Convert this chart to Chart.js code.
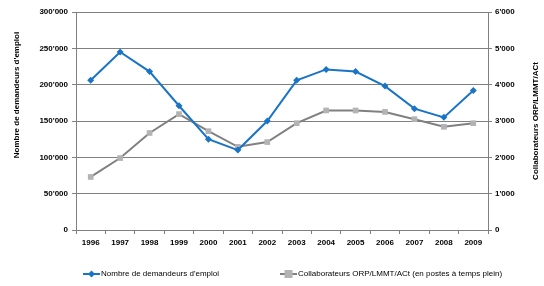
<!DOCTYPE html>
<html>
<head>
<meta charset="utf-8">
<script src="https://cdn.jsdelivr.net/npm/chart.js@4"></script>
<style>
  html, body { margin: 0; padding: 0; background: #fff; }
  #wrap { width: 544px; height: 286px; }
</style>
</head>
<body>
<div id="wrap"><canvas id="chart"></canvas></div>
<script>
// valeurs
const years = ['1996', '1997', '1998', '1999', '2000', '2001', '2002', '2003', '2004', '2005', '2006', '2007', '2008', '2009'];
const demandeurs = [206000, 245000, 218000, 171000, 125000, 110000, 150000, 206000, 221000, 218000, 198000, 167000, 155000, 192000];
const collaborateurs = [1460, 1980, 2670, 3190, 2720, 2290, 2420, 2940, 3290, 3290, 3250, 3050, 2840, 2940];

const blue = '#1a74c6';
const grayLine = '#808080';
const grayMark = '#b3b3b3';
const fontFam = '"Liberation Sans", Arial, sans-serif';

// format 300'000
const fmt = v => String(v).replace(/\B(?=(\d{3})+(?!\d))/g, "'");

// titres des axes + legende (ligne et marqueur comme dans Excel)
const extras = {
  id: 'extras',
  afterDraw(chart) {
    const ctx = chart.ctx;
    const area = chart.chartArea;
    ctx.save();
    ctx.fillStyle = '#000';
    ctx.font = 'bold 8px ' + fontFam;
    ctx.textAlign = 'center';
    ctx.textBaseline = 'middle';
    ctx.translate(17, 95);
    ctx.rotate(-Math.PI / 2);
    ctx.fillText("Nombre de demandeurs d'emploi", 0, 0);
    ctx.restore();

    ctx.save();
    ctx.fillStyle = '#000';
    ctx.font = 'bold 8px ' + fontFam;
    ctx.textAlign = 'center';
    ctx.textBaseline = 'middle';
    ctx.translate(536, (area.top + area.bottom) / 2);
    ctx.rotate(-Math.PI / 2);
    ctx.fillText('Collaborateurs ORP/LMMT/ACt', 0, 0);
    ctx.restore();

    // legende
    const ly = 274;
    const items = [
      { x: 83, ds: chart.data.datasets[0], shape: 'diamond' },
      { x: 280, ds: chart.data.datasets[1], shape: 'square' }
    ];
    ctx.save();
    ctx.font = '8px ' + fontFam;
    ctx.textBaseline = 'middle';
    ctx.textAlign = 'left';
    items.forEach(it => {
      ctx.strokeStyle = it.ds.borderColor;
      ctx.lineWidth = 2;
      ctx.beginPath();
      ctx.moveTo(it.x, ly);
      ctx.lineTo(it.x + 17, ly);
      ctx.stroke();
      ctx.fillStyle = it.ds.backgroundColor;
      const cx = it.x + 8.5;
      if (it.shape === 'diamond') {
        ctx.beginPath();
        ctx.moveTo(cx, ly - 3.5);
        ctx.lineTo(cx + 3.5, ly);
        ctx.lineTo(cx, ly + 3.5);
        ctx.lineTo(cx - 3.5, ly);
        ctx.closePath();
        ctx.fill();
      } else {
        ctx.fillRect(cx - 4, ly - 4, 8, 8);
      }
      ctx.fillStyle = '#000';
      ctx.fillText(it.ds.label, it.x + 18, ly);
    });
    ctx.restore();
  }
};

new Chart(document.getElementById('chart'), {
  type: 'line',
  data: {
    labels: years,
    datasets: [
      {
        label: "Nombre de demandeurs d'emploi",
        data: demandeurs,
        yAxisID: 'y',
        borderColor: blue,
        backgroundColor: blue,
        borderWidth: 2,
        pointStyle: 'rectRot',
        pointRadius: 3.5,
        pointBorderWidth: 0,
        tension: 0
      },
      {
        label: 'Collaborateurs ORP/LMMT/ACt (en postes à temps plein)',
        data: collaborateurs,
        yAxisID: 'y1',
        borderColor: grayLine,
        backgroundColor: grayMark,
        borderWidth: 2,
        pointStyle: 'rect',
        pointRadius: 4,
        pointBorderWidth: 0,
        tension: 0
      }
    ]
  },
  options: {
    responsive: true,
    maintainAspectRatio: false,
    animation: false,
    layout: { padding: { top: 12, right: 0, bottom: 34, left: 0 } },
    plugins: {
      tooltip: { enabled: false },
      legend: { display: false }
    },
    scales: {
      x: {
        offset: true,
        grid: { offset: true, drawOnChartArea: false, color: grayLine, tickLength: 4 },
        border: { color: grayLine },
        ticks: { color: '#000', font: { family: fontFam, size: 8, weight: 'bold' }, maxRotation: 0, padding: 4 },
        afterFit(s) { s.height = 22; }
      },
      y: {
        position: 'left',
        min: 0, max: 300000,
        grid: { color: grayLine, tickLength: 4 },
        border: { color: grayLine },
        ticks: { stepSize: 50000, color: '#000', font: { family: fontFam, size: 8, weight: 'bold' }, padding: 4, callback: v => fmt(v) },
        afterFit(s) { s.width = 76; }
      },
      y1: {
        position: 'right',
        min: 0, max: 6000,
        grid: { drawOnChartArea: false, color: grayLine, tickLength: 4 },
        border: { color: grayLine },
        ticks: { stepSize: 1000, color: '#000', font: { family: fontFam, size: 8, weight: 'bold' }, padding: 3, callback: v => fmt(v) },
        afterFit(s) { s.width = 56; }
      }
    }
  },
  plugins: [extras]
});
</script>
</body>
</html>
